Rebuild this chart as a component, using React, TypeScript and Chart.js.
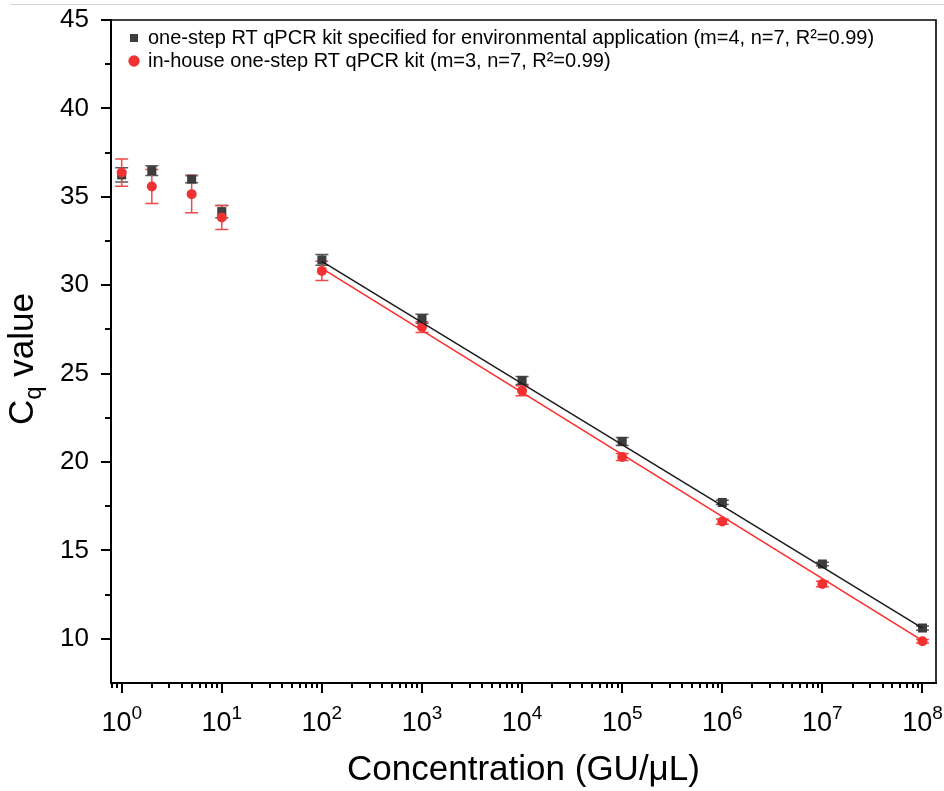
import React, { useEffect, useRef } from 'react';
import { Chart, registerables } from 'chart.js';

Chart.register(...registerables);

// ---- data ----
const concentrations = [1, 2, 5, 10, 100, 1e3, 1e4, 1e5, 1e6, 1e7, 1e8];
const envKitCq = [36.24, 36.48, 36.0, 34.16, 31.43, 28.1, 24.61, 21.16, 17.71, 14.23, 10.61];
const envKitSd = [0.4, 0.27, 0.2, 0.35, 0.3, 0.25, 0.22, 0.22, 0.12, 0.1, 0.12];
const inHouseCq = [36.37, 35.58, 35.15, 33.83, 30.81, 27.63, 24.03, 20.28, 16.63, 13.1, 9.86];
const inHouseSd = [0.77, 0.96, 1.05, 0.68, 0.55, 0.3, 0.28, 0.2, 0.15, 0.15, 0.1];

const envFitX = [100, 1e8];
const envFitY = [31.35, 10.6];
const inHouseFitX = [100, 1e8];
const inHouseFitY = [30.95, 9.9];

const envLabel = 'one-step RT qPCR kit specified for environmental application (m=4, n=7, R²=0.99)';
const inHouseLabel = 'in-house one-step RT qPCR kit (m=3, n=7, R²=0.99)';

const xTickValues = [1, 10, 100, 1e3, 1e4, 1e5, 1e6, 1e7, 1e8];
const xTickBase = '10';
const xTickExponents = ['0', '1', '2', '3', '4', '5', '6', '7', '8'];
const xMinorMultipliers = [2, 3, 4, 5, 6, 7, 8, 9];
const xMinorExtra = [0.8, 0.9];
const yTickValues = [10, 15, 20, 25, 30, 35, 40, 45];
const yMinorValues = [12.5, 17.5, 22.5, 27.5, 32.5, 37.5, 42.5];

const X_MIN = 0.782;
const X_MAX = 1.365e8;
const Y_MIN = 7.5;
const Y_MAX = 45;

const FONT = "'Liberation Sans', Arial, Helvetica, sans-serif";

const BLACK_MARK = '#3d3d3d';
const BLACK_ERR = '#5a5a5a';
const RED_MARK = '#f03232';
const RED_ERR = '#ee4a4a';

const errorSeries = [
  { values: envKitCq, sd: envKitSd, color: BLACK_ERR },
  { values: inHouseCq, sd: inHouseSd, color: RED_ERR },
];

const customPlugin = {
  id: 'customDecor',
  beforeDraw(chart: any) {
    const ca = chart.chartArea;
    const lg = chart.legend;
    if (lg && ca) {
      lg.left = ca.left + 16;
      lg.top = ca.top + 5;
    }
    const ctx = chart.ctx;
    ctx.save();
    ctx.strokeStyle = '#d6d6d6';
    ctx.lineWidth = 1;
    ctx.beginPath();
    ctx.moveTo(10, 4.5);
    ctx.lineTo(chart.width, 4.5);
    ctx.stroke();
    ctx.restore();
  },
  beforeDatasetsDraw(chart: any) {
    const ctx = chart.ctx;
    const xs = chart.scales.x;
    const ys = chart.scales.y;
    ctx.save();
    ctx.lineWidth = 1.5;
    errorSeries.forEach((s) => {
      ctx.strokeStyle = s.color;
      concentrations.forEach((c, i) => {
        const px = xs.getPixelForValue(c);
        const pt = ys.getPixelForValue(s.values[i] + s.sd[i]);
        const pb = ys.getPixelForValue(s.values[i] - s.sd[i]);
        const hw = 6.5;
        ctx.beginPath();
        ctx.moveTo(px, pt);
        ctx.lineTo(px, pb);
        ctx.moveTo(px - hw, pt);
        ctx.lineTo(px + hw, pt);
        ctx.moveTo(px - hw, pb);
        ctx.lineTo(px + hw, pb);
        ctx.stroke();
      });
    });
    ctx.restore();
  },
  afterDraw(chart: any) {
    const ctx = chart.ctx;
    const { left, right, top, bottom } = chart.chartArea;
    const xs = chart.scales.x;
    const ys = chart.scales.y;
    ctx.save();
    ctx.strokeStyle = '#000';
    // frame top/right
    ctx.lineWidth = 1.6;
    ctx.beginPath();
    ctx.moveTo(left, top);
    ctx.lineTo(right, top);
    ctx.lineTo(right, bottom);
    ctx.stroke();
    // axes
    ctx.lineWidth = 2;
    ctx.beginPath();
    ctx.moveTo(left, top - 1);
    ctx.lineTo(left, bottom + 1);
    ctx.moveTo(left - 1, bottom);
    ctx.lineTo(right + 1, bottom);
    ctx.stroke();
    // ticks
    ctx.lineWidth = 2;
    ctx.beginPath();
    xTickValues.forEach((v) => {
      const p = Math.round(xs.getPixelForValue(v));
      ctx.moveTo(p, bottom);
      ctx.lineTo(p, bottom + 10);
    });
    const minors: number[] = [...xMinorExtra];
    xTickValues.forEach((d) => xMinorMultipliers.forEach((m) => minors.push(d * m)));
    minors.forEach((v) => {
      if (v < X_MIN || v > X_MAX) return;
      const p = Math.round(xs.getPixelForValue(v));
      if (p > right - 3) return;
      ctx.moveTo(p, bottom);
      ctx.lineTo(p, bottom + 5);
    });
    yTickValues.forEach((v) => {
      const p = Math.round(ys.getPixelForValue(v));
      ctx.moveTo(left, p);
      ctx.lineTo(left - 10, p);
    });
    yMinorValues.forEach((v) => {
      const p = Math.round(ys.getPixelForValue(v));
      ctx.moveTo(left, p);
      ctx.lineTo(left - 6, p);
    });
    ctx.stroke();

    // x tick labels: 10 with superscript exponent
    ctx.fillStyle = '#000';
    ctx.textBaseline = 'alphabetic';
    ctx.textAlign = 'left';
    const baseFont = `27px ${FONT}`;
    const expFont = `19px ${FONT}`;
    xTickValues.forEach((v, i) => {
      const px = xs.getPixelForValue(v);
      ctx.font = baseFont;
      const wb = ctx.measureText(xTickBase).width;
      ctx.font = expFont;
      const we = ctx.measureText(xTickExponents[i]).width;
      const x0 = px - (wb + we) / 2;
      ctx.font = baseFont;
      ctx.fillText(xTickBase, x0, bottom + 48);
      ctx.font = expFont;
      ctx.fillText(xTickExponents[i], x0 + wb, bottom + 36);
    });

    // y title: C_q value
    ctx.translate(33, 359);
    ctx.rotate(-Math.PI / 2);
    const big = `35px ${FONT}`;
    const small = `24px ${FONT}`;
    ctx.font = big;
    const wC = ctx.measureText('C').width;
    const wV = ctx.measureText(' value').width;
    ctx.font = small;
    const wQ = ctx.measureText('q').width;
    let x0 = -(wC + wQ + wV) / 2;
    ctx.font = big;
    ctx.fillText('C', x0, 0);
    x0 += wC;
    ctx.font = small;
    ctx.fillText('q', x0, 8);
    x0 += wQ;
    ctx.font = big;
    ctx.fillText(' value', x0, 0);
    ctx.restore();
  },
};

export default function App() {
  const canvasRef = useRef<HTMLCanvasElement | null>(null);

  useEffect(() => {
    if (!canvasRef.current) return;
    Chart.defaults.font.family = FONT;
    const chart = new Chart(canvasRef.current, {
      type: 'scatter',
      data: {
        datasets: [
          {
            label: envLabel,
            data: concentrations.map((c, i) => ({ x: c, y: envKitCq[i] })),
            pointStyle: 'rect',
            pointRadius: 6.4,
            pointHoverRadius: 6.4,
            backgroundColor: BLACK_MARK,
            borderColor: BLACK_MARK,
            borderWidth: 0,
            order: 2,
          },
          {
            label: inHouseLabel,
            data: concentrations.map((c, i) => ({ x: c, y: inHouseCq[i] })),
            pointStyle: 'circle',
            pointRadius: 5,
            pointHoverRadius: 5,
            backgroundColor: RED_MARK,
            borderColor: RED_MARK,
            borderWidth: 0,
            order: 1,
          },
          {
            label: 'fit-env',
            data: envFitX.map((x, i) => ({ x, y: envFitY[i] })),
            showLine: true,
            pointRadius: 0,
            borderColor: '#1a1a1a',
            borderWidth: 1.5,
            order: 0,
          },
          {
            label: 'fit-inhouse',
            data: inHouseFitX.map((x, i) => ({ x, y: inHouseFitY[i] })),
            showLine: true,
            pointRadius: 0,
            borderColor: '#ff2a2a',
            borderWidth: 1.5,
            order: 0,
          },
        ],
      },
      options: {
        animation: false,
        responsive: true,
        maintainAspectRatio: false,
        layout: { padding: { top: 20, right: 8, left: 0, bottom: 0 } },
        plugins: {
          tooltip: { enabled: false },
          legend: {
            position: 'chartArea',
            align: 'start',
            labels: {
              usePointStyle: true,
              boxWidth: 8,
              boxHeight: 8,
              padding: 3,
              color: '#000',
              font: { size: 20, family: FONT },
              filter: (item: any) => item.datasetIndex < 2,
              sort: (a: any, b: any) => a.datasetIndex - b.datasetIndex,
            },
          },
        },
        scales: {
          x: {
            type: 'logarithmic',
            min: X_MIN,
            max: X_MAX,
            grid: { display: false, drawTicks: false },
            border: { display: false },
            afterBuildTicks: (scale: any) => {
              scale.ticks = xTickValues.map((v) => ({ value: v }));
            },
            afterFit: (scale: any) => {
              scale.height = 108;
              scale.paddingLeft = 0;
              scale.paddingRight = 0;
            },
            ticks: { display: false },
            title: {
              display: true,
              text: 'Concentration (GU/μL)',
              color: '#000',
              font: { size: 35, family: FONT },
              padding: { top: 0, bottom: 0 },
            },
          },
          y: {
            type: 'linear',
            min: Y_MIN,
            max: Y_MAX,
            grid: { display: false, drawTicks: false },
            border: { display: false },
            afterBuildTicks: (scale: any) => {
              scale.ticks = yTickValues.map((v) => ({ value: v }));
            },
            afterFit: (scale: any) => {
              scale.width = 111;
              scale.paddingTop = 0;
              scale.paddingBottom = 0;
            },
            ticks: {
              padding: 22,
              color: '#000',
              font: { size: 26, family: FONT },
              callback: (v: any) => String(v),
            },
          },
        },
      },
      plugins: [customPlugin],
    } as any);
    return () => chart.destroy();
  }, []);

  return (
    <div style={{ position: 'fixed', left: 0, top: 0, width: 944, height: 791, background: '#fff' }}>
      <canvas ref={canvasRef} />
    </div>
  );
}
